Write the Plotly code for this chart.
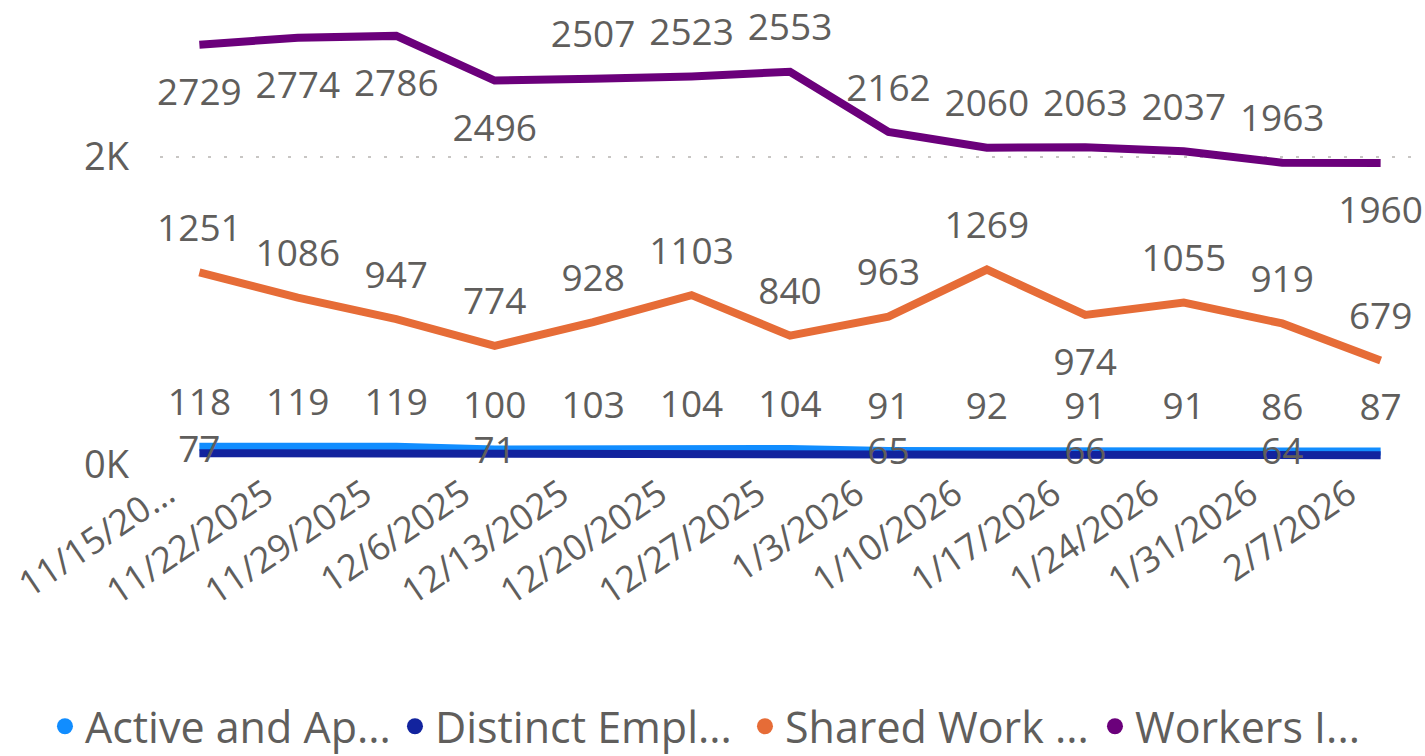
import plotly.graph_objects as go

# ---- data ----
dates = ["11/15/2025", "11/22/2025", "11/29/2025", "12/6/2025", "12/13/2025", "12/20/2025",
         "12/27/2025", "1/3/2026", "1/10/2026", "1/17/2026", "1/24/2026", "1/31/2026", "2/7/2026"]
tick_labels = ["11/15/20...", "11/22/2025", "11/29/2025", "12/6/2025", "12/13/2025", "12/20/2025",
               "12/27/2025", "1/3/2026", "1/10/2026", "1/17/2026", "1/24/2026", "1/31/2026", "2/7/2026"]

active_name = "Active and Ap..."
distinct_name = "Distinct Empl..."
shared_name = "Shared Work ..."
workers_name = "Workers I..."

active = [118, 119, 119, 100, 103, 104, 104, 91, 92, 91, 91, 86, 87]
distinct = [77, 76, 76, 71, 71, 71, 71, 65, 65, 66, 65, 64, 63]
distinct_labeled = [True, False, False, True, False, False, False, True, False, True, False, True, False]
shared = [1251, 1086, 947, 774, 928, 1103, 840, 963, 1269, 974, 1055, 919, 679]
workers = [2729, 2774, 2786, 2496, 2507, 2523, 2553, 2162, 2060, 2063, 2037, 1963, 1960]

y_tick_vals = [0, 2000]
y_tick_text = ["0K", "2K"]

# ---- styles ----
C_ACTIVE = "#118DFF"
C_DISTINCT = "#12239E"
C_SHARED = "#E66C37"
C_WORKERS = "#6B007B"
TEXT = "#605E5C"
FONT = "Segoe UI, Open Sans, sans-serif"
FS = 37
LW = 8

SIZE_TOP = 34
SIZE_BOTTOM = 50

workers_pos = ["bottom center"] * 4 + ["top center"] * 8 + ["bottom center"]
shared_pos = ["top center"] * 9 + ["bottom center"] + ["top center"] * 3
active_pos = ["top center"] * 13


def sizes(pos):
    return [SIZE_BOTTOM if p.startswith("bottom") else SIZE_TOP for p in pos]


fig = go.Figure()

# lines
for vals, col in [(active, C_ACTIVE), (distinct, C_DISTINCT), (shared, C_SHARED), (workers, C_WORKERS)]:
    fig.add_trace(go.Scatter(x=dates, y=vals, mode="lines",
                             line=dict(color=col, width=LW, shape="linear"),
                             showlegend=False, hoverinfo="skip"))

# labels
def label_trace(vals, pos):
    return go.Scatter(x=dates, y=vals, mode="markers+text",
                      text=[str(v) for v in vals],
                      textposition=pos,
                      marker=dict(size=sizes(pos), color="rgba(0,0,0,0)", opacity=0,
                                  line=dict(width=0)),
                      textfont=dict(family=FONT, size=FS, color=TEXT),
                      cliponaxis=False, showlegend=False, hoverinfo="skip")

fig.add_trace(label_trace(active, active_pos))
fig.add_trace(go.Scatter(x=dates, y=distinct, mode="text",
                         text=[str(v) if f else "" for v, f in zip(distinct, distinct_labeled)],
                         textposition="middle center",
                         textfont=dict(family=FONT, size=FS, color=TEXT),
                         cliponaxis=False, showlegend=False, hoverinfo="skip"))
fig.add_trace(label_trace(shared, shared_pos))
fig.add_trace(label_trace(workers, workers_pos))

# legend entries
for name, col in [(active_name, C_ACTIVE), (distinct_name, C_DISTINCT),
                  (shared_name, C_SHARED), (workers_name, C_WORKERS)]:
    fig.add_trace(go.Scatter(x=[None], y=[None], mode="markers", name=name,
                             marker=dict(color=col, size=16, symbol="circle")))

fig.update_layout(
    width=1425, height=756,
    margin=dict(l=160, r=5, t=0, b=291, autoexpand=False),
    paper_bgcolor="white", plot_bgcolor="white",
    font=dict(family=FONT, size=FS, color=TEXT),
    showlegend=True,
    legend=dict(orientation="h", xref="paper", yref="paper",
                x=-0.0913, xanchor="left", y=-0.562, yanchor="middle",
                font=dict(family=FONT, size=43, color=TEXT),
                entrywidth=305, entrywidthmode="pixels",
                itemsizing="trace", tracegroupgap=0, itemwidth=30),
    xaxis=dict(type="category", categoryorder="array", categoryarray=dates,
               tickmode="array", tickvals=dates, ticktext=tick_labels,
               tickangle=-34, showgrid=False, showline=False, zeroline=False,
               ticks="", range=[-0.4, 12.4], automargin=False,
               ticklabelstandoff=0, ticklabelshift=-32,
               tickfont=dict(family=FONT, size=36, color=TEXT)),
    yaxis=dict(range=[0, 3019], tickmode="array", tickvals=y_tick_vals, ticktext=y_tick_text,
               showgrid=True, gridcolor="#C8C6C4", gridwidth=2, griddash="3px,13px",
               zeroline=False, showline=False, ticks="", ticklabelstandoff=30,
               automargin=False,
               tickfont=dict(family=FONT, size=38, color=TEXT)),
)

fig.write_html("out.html", config={"displayModeBar": False},
               post_script="document.body.style.margin='0';document.body.style.overflow='hidden';")
